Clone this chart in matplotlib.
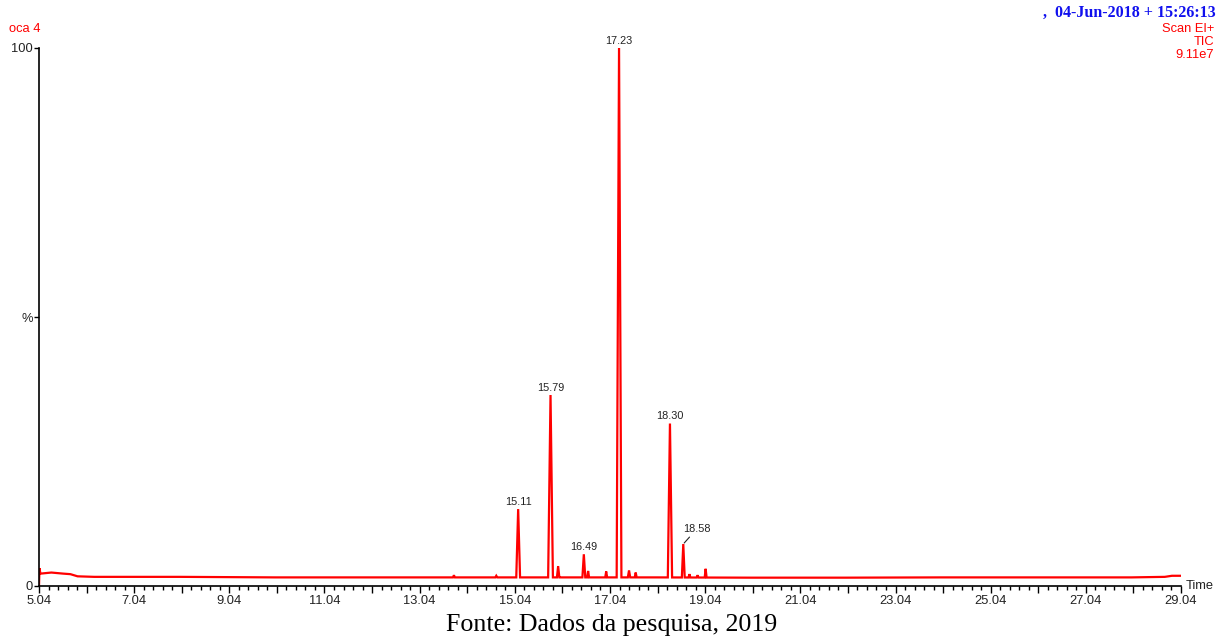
import numpy as np
import matplotlib
matplotlib.use("Agg")
import matplotlib.pyplot as plt
from matplotlib.ticker import FixedLocator

# ---- chromatogram data (retention time in min, relative intensity in %) ----
baseline_times = [5.04, 5.05, 5.07, 5.30, 5.55, 5.70, 5.85, 6.20, 8.00, 10.00,
                  12.00, 14.00, 16.00, 18.00, 20.00, 22.00, 24.00, 26.00,
                  28.00, 28.70, 28.85, 29.04]
baseline_values = [0.0, 3.3, 2.3, 2.5, 2.3, 2.2, 1.8, 1.7, 1.7, 1.6,
                   1.6, 1.6, 1.6, 1.6, 1.55, 1.55, 1.6, 1.6,
                   1.6, 1.7, 1.9, 1.9]

peak_times = [13.76, 14.65, 15.11, 15.79, 15.95, 16.49, 16.58, 16.96, 17.23,
              17.44, 17.58, 18.30, 18.58, 18.71, 18.88, 19.05]
peak_heights = [2.0, 1.9, 14.3, 35.5, 3.7, 5.9, 2.8, 2.7, 100.0,
                2.9, 2.5, 30.2, 7.8, 2.2, 2.0, 3.2]
peak_halfwidths = [0.02, 0.02, 0.04, 0.05, 0.025, 0.03, 0.02, 0.02, 0.05,
                   0.025, 0.02, 0.045, 0.03, 0.02, 0.02, 0.02]

labelled_peaks = ["15.11", "15.79", "16.49", "17.23", "18.30", "18.58"]

# ---- build the trace: baseline knots plus triangular peak profiles ----
pts = list(zip(baseline_times, baseline_values))
for t, h, w in zip(peak_times, peak_heights, peak_halfwidths):
    b_left = np.interp(t - w, baseline_times, baseline_values)
    b_right = np.interp(t + w, baseline_times, baseline_values)
    pts += [(t - w, b_left), (t, h), (t + w, b_right)]
clean = []
for tt, vv in pts:
    inside = any((t - w) < tt < (t + w) and tt != t
                 for t, w in zip(peak_times, peak_halfwidths))
    if not inside:
        clean.append((tt, vv))
clean.sort(key=lambda p: p[0])
trace_t = [p[0] for p in clean]
trace_v = [p[1] for p in clean]

# ---- figure ----
fig = plt.figure(figsize=(12.32, 6.4), dpi=100)
ax = fig.add_axes([39 / 1232, 54 / 640, 1142 / 1232, 538 / 640])

ax.plot(trace_t, trace_v, color="#ff0000", lw=1.6, solid_joinstyle="miter")

ax.set_xlim(5.04, 29.04)
ax.set_ylim(0, 100)
for s in ("top", "right"):
    ax.spines[s].set_visible(False)
for s in ("left", "bottom"):
    ax.spines[s].set_linewidth(1.2)
    ax.spines[s].set_color("black")
ax.patch.set_alpha(0)

sans = "Liberation Sans"
label_color = "#222222"

# x ticks: every minute (labelled every two), minor every 0.2 min
major_pos = [5.04 + i for i in range(25)]
ax.xaxis.set_major_locator(FixedLocator(major_pos))
ax.xaxis.set_minor_locator(FixedLocator(
    [5.04 + 0.2 * i for i in range(121) if i % 5 != 0]))
ax.set_xticklabels([f"{v:.2f}" if i % 2 == 0 else ""
                    for i, v in enumerate(major_pos)],
                   fontfamily=sans, fontsize=9.3, color=label_color)
ax.tick_params(axis="x", which="major", length=5, width=1, pad=1.5)
ax.tick_params(axis="x", which="minor", length=3, width=1)

ax.yaxis.set_major_locator(FixedLocator([0, 50, 100]))
ax.set_yticklabels(["0", "%", "100"], fontfamily=sans, fontsize=9.3,
                   color=label_color)
ax.tick_params(axis="y", which="major", length=3.5, width=1, pad=1)

ax.text(1.004, 0, "Time", transform=ax.transAxes, ha="left", va="center",
        fontfamily=sans, fontsize=9.3, color=label_color)

# peak annotations
for lab in labelled_peaks:
    t = float(lab)
    h = peak_heights[peak_times.index(t)]
    if lab == "18.58":
        ax.annotate(lab, xy=(t, h), xytext=(9.5, 7), textcoords="offset points",
                    ha="center", va="bottom", fontfamily=sans, fontsize=7.8,
                    color=label_color,
                    arrowprops=dict(arrowstyle="-", color=label_color, lw=0.8,
                                    shrinkA=0, shrinkB=1))
    else:
        ax.annotate(lab, xy=(t, h), xytext=(0, 1.5), textcoords="offset points",
                    ha="center", va="bottom", fontfamily=sans, fontsize=7.8,
                    color=label_color)

# header texts
fig.text(9 / 1232, 1 - 32 / 640, "oca 4", fontfamily=sans, fontsize=9.3,
         color="#ff0000", ha="left", va="baseline")
fig.text(1216 / 1232, 1 - 17 / 640, ",  04-Jun-2018 + 15:26:13",
         fontfamily="Liberation Serif", fontweight="bold", fontsize=11.5,
         color="#1010ee", ha="right", va="baseline")
for i, s in enumerate(["Scan EI+", "TIC", "9.11e7"]):
    fig.text(1214 / 1232, 1 - (32 + 13 * i) / 640, s, fontfamily=sans,
             fontsize=9.3, color="#ff0000", ha="right", va="baseline")

fig.text(612 / 1232, 1 - 631 / 640, "Fonte: Dados da pesquisa, 2019",
         fontfamily="Liberation Serif", fontsize=18.7, color="black",
         ha="center", va="baseline")

fig.savefig("out.png", dpi=100)
